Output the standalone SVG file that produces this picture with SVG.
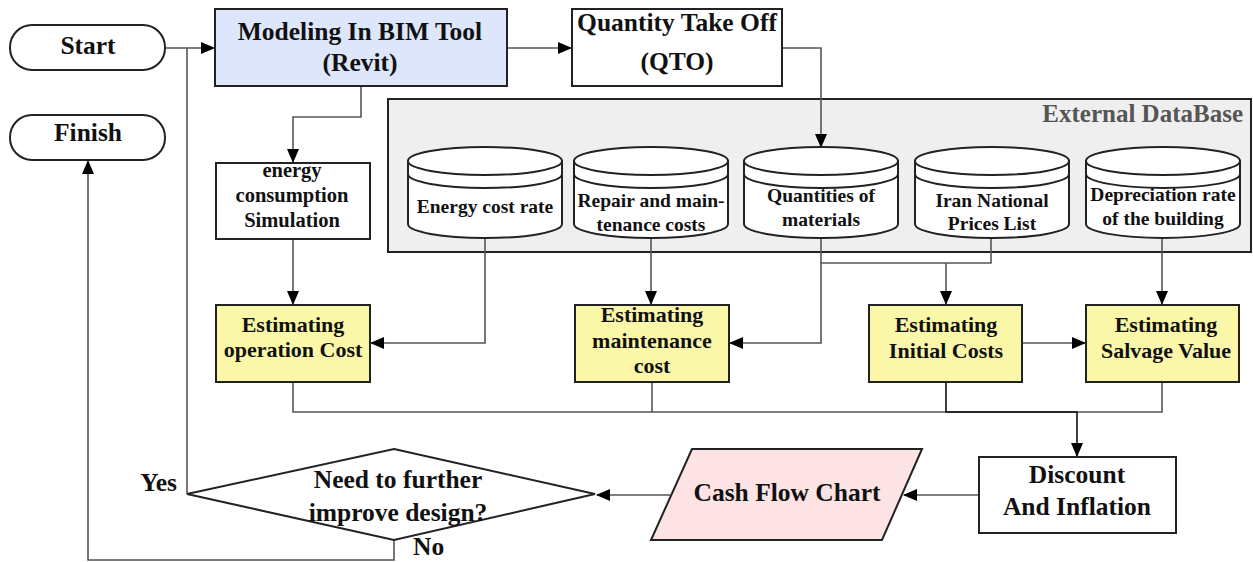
<svg xmlns="http://www.w3.org/2000/svg" width="1253" height="562" viewBox="0 0 1253 562">
<defs>
<marker id="ah" markerUnits="userSpaceOnUse" markerWidth="14" markerHeight="12" refX="13" refY="6" orient="auto">
<path d="M0,0 L14,6 L0,12 Z" fill="#000"/>
</marker>
<style>
text{font-family:"Liberation Serif","Times New Roman","DejaVu Serif",serif;font-weight:bold;fill:#111;text-anchor:middle}
.box{stroke:#222;stroke-width:2}
.white{fill:#fff}
.yel{fill:#fbf7a8}
.con{fill:none;stroke:#555;stroke-width:1.6}
.dk{stroke:#111}
.t24{font-size:25.5px}
.t21{font-size:22px}
.t20{font-size:20.5px}
.t19{font-size:19.5px}
</style>
</defs>
<rect width="1253" height="562" fill="#fff"/>

<g id="external-database">
<rect x="388" y="99" width="863" height="153" fill="#efefef" stroke="#222" stroke-width="2"/>
<text x="1243" y="122" style="font-size:25px;fill:#555;text-anchor:end">External DataBase</text>
</g>

<g id="connectors">
<path class="con" d="M165,48 H214" marker-end="url(#ah)"/>
<path class="con" d="M187,494 V48"/>
<path class="con" d="M507,48 H571" marker-end="url(#ah)"/>
<path class="con" d="M782,48 H821 V147" marker-end="url(#ah)"/>
<path class="con" d="M361,86 V117 H293 V162" marker-end="url(#ah)"/>
<path class="con" d="M293,239 V304" marker-end="url(#ah)"/>
<path class="con" d="M485,238 V343 H371" marker-end="url(#ah)"/>
<path class="con" d="M651,238 V304" marker-end="url(#ah)"/>
<path class="con" d="M821,238 V343 H730" marker-end="url(#ah)"/>
<path class="con" d="M821,263 H991 V238"/>
<path class="con" d="M946,263 V304" marker-end="url(#ah)"/>
<path class="con" d="M1162,238 V304" marker-end="url(#ah)"/>
<path class="con" d="M1022,343 H1085" marker-end="url(#ah)"/>
<path class="con" d="M293,382 V412 H1162 V382"/>
<path class="con" d="M652,382 V412"/>
<path class="con dk" d="M946,382 V412 H1077 V456" marker-end="url(#ah)"/>
<path class="con" d="M979,495 H904" marker-end="url(#ah)"/>
<path class="con" d="M670,495 H597" marker-end="url(#ah)"/>
<path class="con" d="M394,540 V560 H88 V161" marker-end="url(#ah)"/>
</g>

<g id="start">
<rect class="box white" x="10" y="25" width="155" height="45" rx="22"/>
<text class="t24" x="88" y="54">Start</text>
</g>
<g id="finish">
<rect class="box white" x="10" y="115" width="155" height="45" rx="22"/>
<text class="t24" x="88" y="141">Finish</text>
</g>
<g id="modeling">
<rect class="box" x="215" y="9" width="292" height="77" fill="#dde6fb"/>
<text class="t24" x="360" y="40">Modeling In BIM Tool</text>
<text class="t24" x="360" y="71">(Revit)</text>
</g>
<g id="qto">
<rect class="box white" x="572" y="9" width="210" height="77"/>
<text class="t24" x="677" y="31">Quantity Take Off</text>
<text class="t24" x="677" y="70">(QTO)</text>
</g>
<g id="energy-simulation">
<rect class="box white" x="216" y="163" width="154" height="76"/>
<text class="t20" x="292" y="177">energy</text>
<text class="t20" x="292" y="202">consumption</text>
<text class="t20" x="292" y="227">Simulation</text>
</g>

<g id="cyl-energy-cost">
<path class="box white" d="M408,161 V224 A77,14 0 0 0 562,224 V161 Z"/>
<ellipse class="box white" cx="485" cy="161" rx="77" ry="14"/>
<path class="box" fill="none" d="M408,174 A77,14 0 0 0 562,174"/>
<text class="t19" x="485" y="213">Energy cost rate</text>
</g>
<g id="cyl-repair">
<path class="box white" d="M574,161 V224 A77,14 0 0 0 728,224 V161 Z"/>
<ellipse class="box white" cx="651" cy="161" rx="77" ry="14"/>
<path class="box" fill="none" d="M574,174 A77,14 0 0 0 728,174"/>
<text class="t19" x="651" y="207">Repair and main-</text>
<text class="t19" x="651" y="231">tenance costs</text>
</g>
<g id="cyl-quantities">
<path class="box white" d="M744,161 V224 A77,14 0 0 0 898,224 V161 Z"/>
<ellipse class="box white" cx="821" cy="161" rx="77" ry="14"/>
<path class="box" fill="none" d="M744,174 A77,14 0 0 0 898,174"/>
<text class="t19" x="821" y="202">Quantities of</text>
<text class="t19" x="821" y="226">materials</text>
</g>
<g id="cyl-prices">
<path class="box white" d="M915,161 V224 A77,14 0 0 0 1069,224 V161 Z"/>
<ellipse class="box white" cx="992" cy="161" rx="77" ry="14"/>
<path class="box" fill="none" d="M915,174 A77,14 0 0 0 1069,174"/>
<text class="t19" x="992" y="207">Iran National</text>
<text class="t19" x="992" y="230">Prices List</text>
</g>
<g id="cyl-depreciation">
<path class="box white" d="M1086,161 V224 A77,14 0 0 0 1240,224 V161 Z"/>
<ellipse class="box white" cx="1163" cy="161" rx="77" ry="14"/>
<path class="box" fill="none" d="M1086,174 A77,14 0 0 0 1240,174"/>
<text class="t19" x="1163" y="201">Depreciation rate</text>
<text class="t19" x="1163" y="225">of the building</text>
</g>

<g id="est-operation">
<rect class="box yel" x="216" y="305" width="154" height="77"/>
<text class="t21" x="293" y="332">Estimating</text>
<text class="t21" x="293" y="357">operation Cost</text>
</g>
<g id="est-maintenance">
<rect class="box yel" x="575" y="305" width="154" height="77"/>
<text class="t21" x="652" y="322">Estimating</text>
<text class="t21" x="652" y="348">maintenance</text>
<text class="t21" x="652" y="373">cost</text>
</g>
<g id="est-initial">
<rect class="box yel" x="869" y="305" width="153" height="77"/>
<text class="t21" x="946" y="332">Estimating</text>
<text class="t21" x="946" y="358">Initial Costs</text>
</g>
<g id="est-salvage">
<rect class="box yel" x="1086" y="305" width="153" height="77"/>
<text class="t21" x="1166" y="332">Estimating</text>
<text class="t21" x="1166" y="358">Salvage Value</text>
</g>

<g id="discount">
<rect class="box white" x="979" y="457" width="197" height="76"/>
<text class="t24" x="1077" y="483">Discount</text>
<text class="t24" x="1077" y="515">And Inflation</text>
</g>
<g id="cash-flow">
<polygon class="box" points="692,449 922,449 882,540 651,540" fill="#fde3e3"/>
<text class="t24" x="787" y="501">Cash Flow Chart</text>
</g>
<g id="decision">
<polygon class="box white" points="394,449 595,494 394,540 187,494"/>
<text class="t24" x="398" y="488">Need to further</text>
<text class="t24" x="398" y="521">improve design?</text>
<text class="t24" x="177" y="491" style="text-anchor:end">Yes</text>
<text class="t24" x="413" y="555" style="text-anchor:start">No</text>
</g>
</svg>
